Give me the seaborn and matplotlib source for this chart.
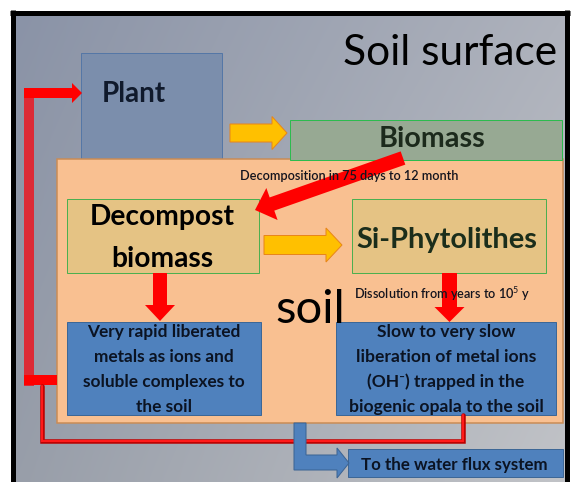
import numpy as np
import matplotlib
matplotlib.use("Agg")
import matplotlib.pyplot as plt
from matplotlib.patches import Rectangle, FancyArrow, Polygon
from matplotlib.colors import to_rgb
import seaborn as sns

sns.set_theme(style="white")
plt.rcParams['font.family'] = ['Lato', 'DejaVu Sans']
plt.rcParams['mathtext.fontset'] = 'custom'
plt.rcParams['mathtext.rm'] = 'Lato'
plt.rcParams['mathtext.it'] = 'Lato'
plt.rcParams['mathtext.bf'] = 'Lato:bold'

# ---- diagram content ----
title_label = "Soil surface"
zone_label = "soil"
plant_label = "Plant"
biomass_label = "Biomass"
decompost_lines = ["Decompost", "biomass"]
phyto_label = "Si-Phytolithes"
decomp_note = "Decomposition in 75 days to 12 month"
dissol_note = "Dissolution from years to 10$^{5}$ y"
rapid_lines = ["Very rapid liberated", "metals as ions and",
               "soluble complexes to", "the soil"]
slow_lines = ["Slow to very slow", "liberation of metal ions",
              "(OH\u207b) trapped in the", "biogenic opala to the soil"]
water_label = "To the water flux system"

W, H = 571, 482
fig = plt.figure(figsize=(W / 100, H / 100), dpi=100, facecolor="white")
ax = fig.add_axes([0, 0, 1, 1])
ax.axis("off")

# background gradient
tl, tr, bl, br = (np.array(to_rgb(c)) for c in ["#8a93a7", "#aeb2bc", "#989ea9", "#c1c3c7"])
nx, ny = 60, 60
u = np.linspace(0, 1, nx)[None, :, None]
v = np.linspace(0, 1, ny)[:, None, None]
img = (1 - u) * (1 - v) * tl + u * (1 - v) * tr + (1 - u) * v * bl + u * v * br
ax.imshow(img, extent=(12, 568, 482, 12), interpolation="bilinear", zorder=0, aspect="auto")
ax.set_xlim(0, W)
ax.set_ylim(H, 0)

px = 0.72  # one pixel in points

# frame
ax.plot([12.5, 12.5], [10, 482], color="black", lw=5 * px, zorder=9, solid_capstyle="butt")
ax.plot([10, 569.5], [12.5, 12.5], color="black", lw=5 * px, zorder=9, solid_capstyle="butt")
ax.plot([567, 567], [10, 482], color="black", lw=5 * px, zorder=9, solid_capstyle="butt")

def box(x, y, w, h, fc, ec, lw=1, z=2):
    ax.add_patch(Rectangle((x, y), w, h, facecolor=fc, edgecolor=ec, lw=lw * px, zorder=z))

# boxes
box(81, 53, 141, 112, "#7b8eac", "#5577a6", z=1)
box(57, 159, 506, 264, "#f9c091", "#c98b55", lw=1.5, z=2)
box(290, 120, 272, 40, "#97a993", "#2dbb4e", z=3)
box(67, 199, 192, 74, "#e5c384", "#4caf50", z=4)
box(352, 199, 194, 74, "#e5c384", "#4caf50", z=4)
box(67, 322, 194, 93, "#4f81bd", "#3d6796", z=4)
box(336, 322, 220, 93, "#4f81bd", "#3d6796", z=4)
box(348, 449, 215, 28, "#4f81bd", "#3d6796", z=4)

def arrow(x, y, dx, dy, w, hw, hl, fc, ec="none", lw=0, z=5):
    ax.add_patch(FancyArrow(x, y, dx, dy, width=w, head_width=hw, head_length=hl,
                            length_includes_head=True, facecolor=fc, edgecolor=ec,
                            lw=lw * px, zorder=z))

# red feedback loop on the left
ax.add_patch(Rectangle((24, 88), 10, 298, facecolor="#dc2b36", edgecolor="none", zorder=5))
arrow(24, 93, 58, 0, 10, 20, 10, "#ff0000")
ax.add_patch(Rectangle((24, 375), 33, 10, facecolor="#ff0000", edgecolor="none", zorder=5))
ax.plot([42, 42, 463, 463], [386, 441, 441, 415], color="#b80000", lw=4.5 * px, zorder=5,
        solid_joinstyle="miter")
ax.plot([42, 42, 463, 463], [386, 441, 441, 415], color="#ff1a1a", lw=2.2 * px, zorder=5,
        solid_joinstyle="miter")

# yellow arrows
arrow(230, 133, 57, 0, 18, 33, 15, "#ffc000", "#e8861a", 1)
arrow(264, 245, 78, 0, 19, 34, 16, "#ffc000", "#e8861a", 1)

# red arrows
arrow(403, 158, 255 - 403, 210 - 158, 14, 34, 18, "#ff0000", z=6)
arrow(160, 273, 0, 48, 14, 30, 16, "#ff0000")
arrow(449.5, 273, 0, 49, 15, 30, 15, "#ff0000")

# blue L arrow to water flux
ax.add_patch(Polygon([(294, 423), (306, 423), (306, 455), (337, 455), (337, 448),
                      (349, 463), (337, 478), (337, 470), (294, 470)],
                     closed=True, facecolor="#4f81bd", edgecolor="#3b6494", lw=1 * px, zorder=5))

renderer = fig.canvas.get_renderer()

def fit_size(s, target_w, weight):
    t = ax.text(0, 0, s, fontsize=10, fontweight=weight)
    w = t.get_window_extent(renderer).width
    t.remove()
    return 10 * target_w / w

def put(x, y, s, fs, ha="center", weight="bold", color="black"):
    ax.text(x, y, s, ha=ha, va="baseline", fontsize=fs, fontweight=weight, color=color, zorder=8)

put(557, 65, title_label, fit_size(title_label, 215, "normal"), ha="right", weight="normal")
put(102, 102, plant_label, fit_size(plant_label, 64, "bold"), ha="left", color="#101a2c")
put(432, 147, biomass_label, fit_size(biomass_label, 107, "bold"), color="#1c2a1c")
put(240, 180, decomp_note, fit_size(decomp_note, 220, "semibold"), ha="left", weight="semibold",
    color="#14141e")
fs = fit_size(decompost_lines[0], 145, "bold")
put(162.5, 225, decompost_lines[0], fs)
put(162.5, 267, decompost_lines[1], fs)
put(446.5, 248, phyto_label, fit_size(phyto_label, 181, "bold"), color="#1b2e1b")
put(354, 299, dissol_note, fit_size(dissol_note, 176, "semibold"), ha="left", weight="semibold",
    color="#14141e")
put(275, 323, zone_label, fit_size(zone_label, 70, "normal"), ha="left", weight="normal")

fs = fit_size(rapid_lines[2], 162, "bold")
for i, line in enumerate(rapid_lines):
    put(164, 337 + 25 * i, line, fs, color="#0b1322")
fs2 = fit_size(slow_lines[3], 194, "bold")
for i, line in enumerate(slow_lines):
    put(446, 337 + 25 * i, line, fs2, color="#0b1322")
put(454.5, 470, water_label, fit_size(water_label, 187, "bold"), color="#0b1322")

fig.savefig("out.png", dpi=100, facecolor="white")
